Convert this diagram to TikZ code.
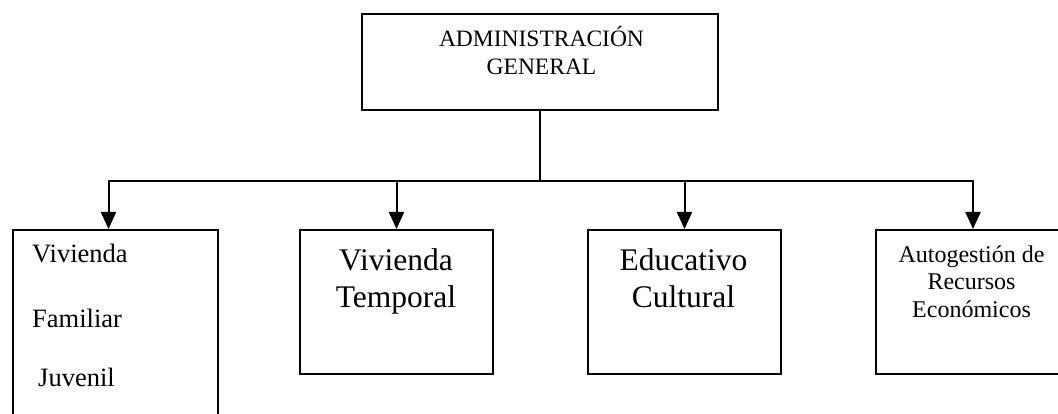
\documentclass[tikz,border=0pt]{standalone}
\usepackage{fontspec}
\setmainfont{Liberation Serif}
\usetikzlibrary{arrows.meta}
\begin{document}
\begin{tikzpicture}[x=1pt,y=-1pt,
  box/.style={draw, line width=2pt, inner sep=0pt, anchor=north west},
  conn/.style={line width=2pt},
  arr/.style={conn, -{Triangle[width=15pt,length=17pt]}},
  txt/.style={inner sep=0pt, anchor=base}]
\clip (0,0) rectangle (1058,414);
% boxes
\node[box, minimum width=356pt, minimum height=96pt] (top) at (361,13) {};
\node[box, minimum width=205pt, minimum height=220pt] (b1) at (12,229) {};
\node[box, minimum width=193pt, minimum height=144pt] (b2) at (299,229) {};
\node[box, minimum width=193pt, minimum height=144pt] (b3) at (587,229) {};
\node[box, minimum width=194pt, minimum height=144pt] (b4) at (875,229) {};
% texts
\node[txt, font=\fontsize{23.5}{27}\selectfont] (t1a) at (541.5,47) {ADMINISTRACIÓN};
\node[txt, font=\fontsize{23.5}{27}\selectfont] (t1b) at (541.5,75) {GENERAL};
\node[txt, anchor=base west, font=\fontsize{26.5}{30}\selectfont] (t2a) at (32,263) {Vivienda};
\node[txt, anchor=base west, font=\fontsize{26.5}{30}\selectfont] (t2b) at (32,327) {Familiar};
\node[txt, anchor=base west, font=\fontsize{26.5}{30}\selectfont] (t2c) at (38,386) {Juvenil};
\node[txt, font=\fontsize{31.5}{37}\selectfont] (t3a) at (396,270) {Vivienda};
\node[txt, font=\fontsize{31.5}{37}\selectfont] (t3b) at (396,308) {Temporal};
\node[txt, font=\fontsize{31.5}{37}\selectfont] (t4a) at (683.5,270) {Educativo};
\node[txt, font=\fontsize{31.5}{37}\selectfont] (t4b) at (683.5,308) {Cultural};
\node[txt, font=\fontsize{24}{27}\selectfont] (t5a) at (971.5,262) {Autogestión de};
\node[txt, font=\fontsize{24}{27}\selectfont] (t5b) at (971.5,290) {Recursos};
\node[txt, font=\fontsize{24}{27}\selectfont] (t5c) at (971.5,317) {Económicos};
% connectors
\coordinate (bus) at (540,181);
\draw[conn] (top.south -| bus) -- (bus);
\draw[arr] (bus) -| ([xshift=-7pt]b1.north);
\draw[arr] (bus) -| (b2.north);
\draw[arr] (bus) -| (b3.north);
\draw[arr] (bus) -| (b4.north);
\end{tikzpicture}
\end{document}
